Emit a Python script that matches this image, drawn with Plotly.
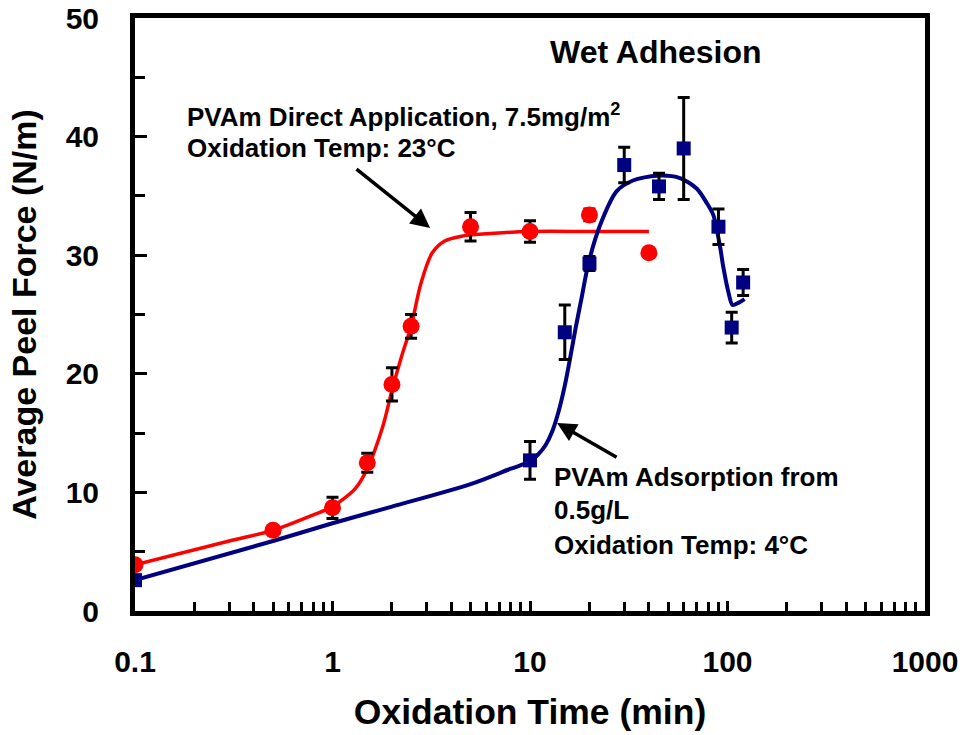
import plotly.graph_objects as go

# ---- data ----
red_x = [0.1, 0.5, 1, 1.5, 2, 2.5, 5, 10, 20, 40]
red_y = [3.9, 6.8, 8.7, 12.5, 19.1, 24.0, 32.4, 32.0, 33.4, 30.2]
red_err = [0, 0, 0.9, 0.8, 1.4, 1.0, 1.2, 0.9, 0.5, 0]

blue_x = [0.1, 10, 15, 20, 30, 45, 60, 90, 105, 120]
blue_y = [2.6, 12.7, 23.5, 29.3, 37.6, 35.8, 39.0, 32.4, 23.9, 27.7]
blue_err = [0, 1.6, 2.3, 0.6, 1.5, 1.1, 4.3, 1.5, 1.3, 1.1]

# fitted curves
red_fit_x = [0.1, 0.3, 0.5, 0.8, 1.0, 1.3, 1.5, 1.8, 2.0, 2.25, 2.5, 2.8, 3.2, 3.7, 4.5, 6, 10, 20, 40]
red_fit_y = [3.9, 5.9, 6.8, 8.1, 8.8, 10.3, 12.0, 15.6, 18.6, 21.6, 24.0, 27.6, 30.2, 31.2, 31.6, 31.8, 32.0, 32.0, 32.0]

blue_fit_x = [0.1, 0.5, 1, 2, 5, 8, 10, 11, 12, 13, 14, 15, 16, 17, 18.2, 19.7, 22.6, 27.5, 33.2, 43.8, 57.5, 70, 78.5, 84.7, 91.5, 95, 101, 106, 114, 122]
blue_fit_y = [2.6, 5.9, 7.4, 8.8, 10.7, 12.0, 12.6, 13.2, 14.0, 15.2, 16.9, 19.0, 21.4, 23.8, 26.3, 29.2, 32.5, 35.4, 36.3, 36.7, 36.5, 35.6, 34.4, 33.4, 30.8, 29.1, 26.9, 25.8, 26.0, 26.3]

x_tickvals = [0.1, 1, 10, 100, 1000]
x_ticktext = ["0.1", "1", "10", "100", "1000"]
y_tickvals = [0, 10, 20, 30, 40, 50]

RED = "#FF0000"
NAVY = "#000080"
FONT = "Liberation Sans"

minor_x = [m * d for d in (0.1, 1, 10, 100) for m in range(2, 10)]

fig = go.Figure()

fig.add_trace(go.Scatter(x=red_fit_x, y=red_fit_y, mode="lines",
                         line=dict(color=RED, width=3.5, shape="spline", smoothing=0.8),
                         hoverinfo="skip", showlegend=False))
fig.add_trace(go.Scatter(x=blue_fit_x, y=blue_fit_y, mode="lines",
                         line=dict(color=NAVY, width=4, shape="spline", smoothing=0.8),
                         hoverinfo="skip", showlegend=False))

fig.add_trace(go.Scatter(x=red_x, y=red_y, mode="markers",
                         marker=dict(symbol="circle", size=17, color=RED),
                         error_y=dict(type="data", array=red_err, visible=True,
                                      color="black", thickness=3, width=6),
                         showlegend=False))
fig.add_trace(go.Scatter(x=blue_x, y=blue_y, mode="markers",
                         marker=dict(symbol="square", size=14, color=NAVY),
                         error_y=dict(type="data", array=blue_err, visible=True,
                                      color="black", thickness=3, width=6),
                         showlegend=False))

bold = lambda s: "<b>" + s + "</b>"

annos = []
def txt(x, y, s, size=26, anchor="left"):
    annos.append(dict(x=x, y=y, xref="x", yref="y", text=bold(s), showarrow=False,
                      xanchor=anchor, yanchor="middle",
                      font=dict(family=FONT, size=size, color="black")))

txt(-0.747, 41.8, "PVAm Direct Application, 7.5mg/m<sup>2</sup>")
txt(-0.747, 39.0, "Oxidation Temp: 23°C")
txt(1.111, 11.3, "PVAm Adsorption from")
txt(1.111, 8.5, "0.5g/L")
txt(1.111, 5.57, "Oxidation Temp: 4°C")
txt(1.638, 47.1, "Wet Adhesion", size=32, anchor="center")

for hx, hy, tx, ty in [(0.494, 32.3, 0.114, 37.35), (1.137, 15.85, 1.446, 12.9)]:
    annos.append(dict(x=hx, y=hy, ax=tx, ay=ty, xref="x", yref="y", axref="x", ayref="y",
                      text="", showarrow=True, arrowhead=2, arrowsize=1.1,
                      arrowwidth=3.5, arrowcolor="black", standoff=0))

fig.update_layout(
    width=967, height=735,
    margin=dict(l=135, r=42, t=18, b=124, autoexpand=False),
    paper_bgcolor="white", plot_bgcolor="white",
    font=dict(family=FONT, color="black"),
    annotations=annos,
    showlegend=False,
)

fig.update_xaxes(
    type="log", range=[-1, 3], automargin=False,
    tickvals=x_tickvals, ticktext=[bold(t) for t in x_ticktext],
    ticks="inside", ticklen=10, tickwidth=3, tickcolor="black",
    minor=dict(tickvals=minor_x, ticks="inside", ticklen=9, tickwidth=3, tickcolor="black"),
    showline=True, linewidth=5, linecolor="black", mirror=True,
    showgrid=False, zeroline=False,
    tickfont=dict(family=FONT, size=30, color="black"),
    ticklabelstandoff=20,
    title=dict(text=bold("Oxidation Time (min)"), font=dict(family=FONT, size=35.5, color="black"),
               standoff=24),
)
fig.update_yaxes(
    range=[0, 50], automargin=False,
    tickvals=y_tickvals, ticktext=[bold(str(v)) for v in y_tickvals],
    ticks="inside", ticklen=12, tickwidth=3, tickcolor="black",
    minor=dict(dtick=5, ticks="inside", ticklen=10, tickwidth=3, tickcolor="black"),
    showline=True, linewidth=5, linecolor="black", mirror=True,
    showgrid=False, zeroline=False,
    tickfont=dict(family=FONT, size=30, color="black"),
    ticklabelstandoff=25,
    title=dict(text=bold("Average Peel Force (N/m)"), font=dict(family=FONT, size=34, color="black"),
               standoff=20),
)

fig.write_html("out.html")
